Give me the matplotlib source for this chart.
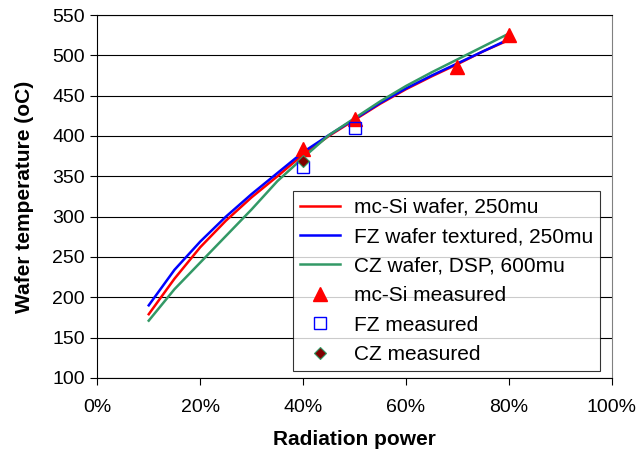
import numpy as np
import matplotlib
matplotlib.use('Agg')
import matplotlib.pyplot as plt
from matplotlib.ticker import PercentFormatter

plt.rcParams['font.family'] = ['Liberation Sans', 'DejaVu Sans']

# simulated curves (radiation power as fraction)
x_sim = [0.10, 0.15, 0.20, 0.25, 0.30, 0.35, 0.40, 0.45, 0.50, 0.55, 0.60, 0.65, 0.70, 0.75, 0.80]
mc_si = [179, 223, 262, 295, 324, 350, 377, 400, 420, 440, 458, 474, 489, 505, 519]
fz = [190, 234, 269, 300, 328, 354, 380, 401, 421, 441, 459, 475, 490, 505, 520]
cz = [171, 210, 243, 276, 309, 344, 373, 401, 422, 443, 462, 479, 495, 511, 527]

# measured points
x_mc_meas = [0.4, 0.5, 0.7, 0.8]
mc_meas = [384, 421, 486, 525]
x_fz_meas = [0.4, 0.5]
fz_meas = [361, 410]
x_cz_meas = [0.4]
cz_meas = [369]

fig = plt.figure(figsize=(6.4, 4.62), dpi=100)
ax = fig.add_axes([0.152, 0.182, 0.804, 0.7855])

ax.plot(x_sim, mc_si, color='#ff0000', lw=1.8, label='mc-Si wafer, 250mu', zorder=3)
ax.plot(x_sim, fz, color='#0000ff', lw=1.8, label='FZ wafer textured, 250mu', zorder=3)
ax.plot(x_sim, cz, color='#339966', lw=1.8, label='CZ wafer, DSP, 600mu', zorder=3)
ax.plot(x_mc_meas, mc_meas, ls='none', marker='^', ms=10, color='#ff0000',
        label='mc-Si measured', zorder=4)
ax.plot(x_fz_meas, fz_meas, ls='none', marker='s', ms=8, mfc='none', mec='#0000ff',
        mew=1.0, label='FZ measured', zorder=4)
ax.plot(x_cz_meas, cz_meas, ls='none', marker='D', ms=6, mfc='#800000', mec='#339966',
        mew=0.8, label='CZ measured', zorder=5)

ax.set_xlim(0, 1.0)
ax.set_ylim(100, 550)
ax.set_xticks(np.arange(0, 1.01, 0.2))
ax.set_yticks(np.arange(100, 551, 50))
ax.xaxis.set_major_formatter(PercentFormatter(1.0, decimals=0))
ax.yaxis.grid(True, color='black', lw=0.8)
ax.set_axisbelow(True)
ax.tick_params(labelsize=14, length=5, direction='out', pad=4)
ax.tick_params(axis='x', pad=10)
for s in ['left', 'bottom', 'top']:
    ax.spines[s].set_color('black')
ax.spines['right'].set_color('#808080')

ax.set_xlabel('Radiation power', fontsize=15, fontweight='bold', labelpad=10)
ax.set_ylabel('Wafer temperature (oC)', fontsize=15, fontweight='bold', labelpad=13)

leg = ax.legend(loc='upper left', bbox_to_anchor=(0.381, 0.515), borderaxespad=0,
                fontsize=15, frameon=True, fancybox=False, edgecolor='black',
                handlelength=1.9, labelspacing=0.5, borderpad=0.33, handletextpad=0.7)
leg.get_frame().set_linewidth(0.8)

fig.savefig('out.png', dpi=100)
